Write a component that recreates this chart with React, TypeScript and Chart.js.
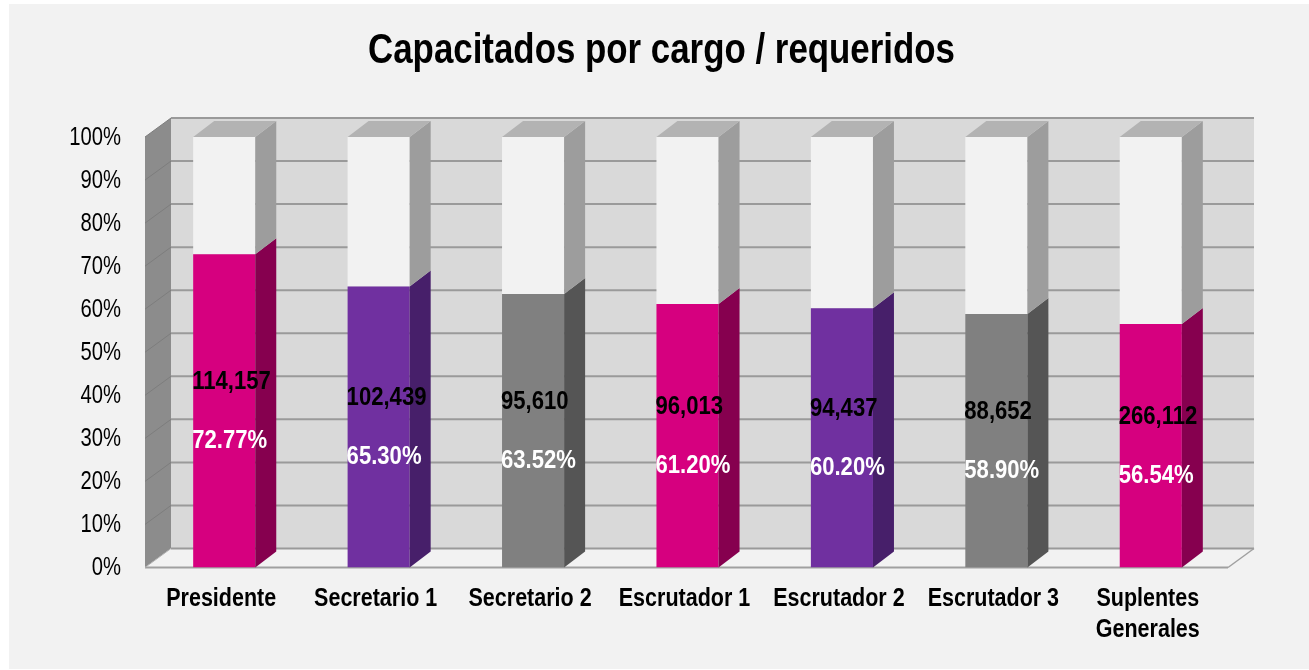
import React, { useEffect, useRef } from 'react';
import { Chart, registerables } from 'chart.js';

Chart.register(...registerables);

const TITLE = 'Capacitados por cargo / requeridos';
const categories: (string | string[])[] = [
  'Presidente',
  'Secretario 1',
  'Secretario 2',
  'Escrutador 1',
  'Escrutador 2',
  'Escrutador 3',
  ['Suplentes', 'Generales'],
];
const percentValues = [72.77, 65.3, 63.52, 61.2, 60.2, 58.9, 56.54];
const trainedCounts = [114157, 102439, 95610, 96013, 94437, 88652, 266112];
const remainderValues = percentValues.map((v) => Math.round((100 - v) * 100) / 100);
const yTickValues = [0, 10, 20, 30, 40, 50, 60, 70, 80, 90, 100];

const barColors = ['#d6007f', '#7030a0', '#808080', '#d6007f', '#7030a0', '#808080', '#d6007f'];
const sideColors = ['#86004f', '#471f6a', '#555555', '#86004f', '#471f6a', '#555555', '#86004f'];
const restColor = '#f2f2f2';
const restSide = '#9d9d9d';
const restTop = '#b3b3b3';

const FF = "'Liberation Sans', Arial, sans-serif";

const WALL_DX = 26;
const WALL_DY = -19;
const BAR_DX = 21;
const BAR_DY = -16;

function poly(ctx: CanvasRenderingContext2D, pts: number[][], fill: string) {
  ctx.beginPath();
  ctx.moveTo(pts[0][0], pts[0][1]);
  for (let i = 1; i < pts.length; i++) ctx.lineTo(pts[i][0], pts[i][1]);
  ctx.closePath();
  ctx.fillStyle = fill;
  ctx.fill();
}

function line(ctx: CanvasRenderingContext2D, x1: number, y1: number, x2: number, y2: number, color: string, w: number) {
  ctx.beginPath();
  ctx.moveTo(x1, y1);
  ctx.lineTo(x2, y2);
  ctx.strokeStyle = color;
  ctx.lineWidth = w;
  ctx.stroke();
}

// condensed text (emulates Arial Narrow by horizontal scaling)
function narrowText(
  ctx: CanvasRenderingContext2D,
  text: string,
  x: number,
  y: number,
  font: string,
  color: string,
  sx: number,
  align: CanvasTextAlign,
  baseline: CanvasTextBaseline
) {
  ctx.save();
  ctx.translate(x, y);
  ctx.scale(sx, 1);
  ctx.font = font;
  ctx.fillStyle = color;
  ctx.textAlign = align;
  ctx.textBaseline = baseline;
  ctx.fillText(text, 0, 0);
  ctx.restore();
}

const excel3d = {
  id: 'excel3d',
  beforeDraw(chart: any) {
    const { ctx, width, height } = chart;
    ctx.save();
    ctx.fillStyle = '#ffffff';
    ctx.fillRect(0, 0, width, height);
    ctx.fillStyle = '#f2f2f2';
    ctx.fillRect(9, 4, width - 9, height - 5);
    narrowText(ctx, TITLE, 661.5, 63, `bold 42px ${FF}`, '#000000', 0.83, 'center', 'alphabetic');
    ctx.restore();
  },
  beforeDatasetsDraw(chart: any) {
    const { ctx, chartArea } = chart;
    const ys = chart.scales.y;
    const xs = chart.scales.x;
    const fl = chartArea.left - 2;
    const fr = chartArea.right;
    const y0 = ys.getPixelForValue(0);
    const y100 = ys.getPixelForValue(100);
    ctx.save();
    // back wall
    ctx.fillStyle = '#d9d9d9';
    ctx.fillRect(fl + WALL_DX, y100 + WALL_DY, fr - fl, y0 - y100);
    // left wall
    poly(ctx, [[fl, y100], [fl + WALL_DX, y100 + WALL_DY], [fl + WALL_DX, y0 + WALL_DY], [fl, y0]], '#8c8c8c');
    // floor
    poly(ctx, [[fl, y0], [fl + WALL_DX, y0 + WALL_DY], [fr + WALL_DX, y0 + WALL_DY], [fr, y0]], '#f2f2f2');
    // gridlines
    for (const v of yTickValues) {
      const yv = ys.getPixelForValue(v);
      if (v > 0) line(ctx, fl, yv, fl + WALL_DX, yv + WALL_DY, '#7d7d7d', 1);
      line(ctx, fl + WALL_DX, yv + WALL_DY, fr + WALL_DX, yv + WALL_DY, '#9a9a9a', 2);
    }
    // floor edges
    line(ctx, fl, y0, fr, y0, '#a0a0a0', 2);
    line(ctx, fr, y0, fr + WALL_DX, y0 + WALL_DY, '#a0a0a0', 1.5);
    line(ctx, fl, y0, fl + WALL_DX, y0 + WALL_DY, '#b0b0b0', 1);

    // y tick labels
    for (const v of yTickValues) {
      narrowText(ctx, v + '%', chartArea.left - 26, ys.getPixelForValue(v) + 1, `25px ${FF}`, '#000000', 0.81, 'right', 'middle');
    }
    // x tick labels
    categories.forEach((c, i) => {
      const lines = Array.isArray(c) ? c : [c];
      const px = xs.getPixelForTick(i) - 3;
      lines.forEach((t, k) => {
        narrowText(ctx, t, px, chartArea.bottom + 32 + k * 31, `bold 25px ${FF}`, '#000000', 0.86, 'center', 'middle');
      });
    });
    ctx.restore();
  },
  afterDatasetsDraw(chart: any) {
    const { ctx } = chart;
    const m0 = chart.getDatasetMeta(0).data;
    const m1 = chart.getDatasetMeta(1).data;
    ctx.save();
    for (let j = 0; j < m0.length; j++) {
      const a = m0[j].getProps(['x', 'y', 'base', 'width'], true);
      const b = m1[j].getProps(['x', 'y', 'base', 'width'], true);
      {
        const r = a.x + a.width / 2;
        const top = Math.min(a.y, a.base);
        const bot = Math.max(a.y, a.base);
        poly(ctx, [[r, top], [r + BAR_DX, top + BAR_DY], [r + BAR_DX, bot + BAR_DY], [r, bot]], sideColors[j]);
      }
      {
        const l = b.x - b.width / 2;
        const r = b.x + b.width / 2;
        const top = Math.min(b.y, b.base);
        const bot = Math.max(b.y, b.base);
        poly(ctx, [[r, top], [r + BAR_DX, top + BAR_DY], [r + BAR_DX, bot + BAR_DY], [r, bot]], restSide);
        poly(ctx, [[l, top], [l + BAR_DX, top + BAR_DY], [r + BAR_DX, top + BAR_DY], [r, top]], restTop);
      }
      const left = a.x - a.width / 2 - 1;
      const mid = (a.y + a.base) / 2;
      narrowText(ctx, trainedCounts[j].toLocaleString('en-US'), left, mid - 29, `bold 26px ${FF}`, '#000000', 0.85, 'left', 'middle');
      narrowText(ctx, percentValues[j].toFixed(2) + '%', left, mid + 30, `bold 26px ${FF}`, '#ffffff', 0.85, 'left', 'middle');
    }
    ctx.restore();
  },
};

export default function App() {
  const ref = useRef<HTMLCanvasElement | null>(null);
  useEffect(() => {
    if (!ref.current) return;
    const chart = new Chart(ref.current, {
      type: 'bar',
      data: {
        labels: categories as any,
        datasets: [
          {
            label: 'Capacitados',
            data: percentValues,
            backgroundColor: barColors,
            borderWidth: 0,
            categoryPercentage: 1,
            barPercentage: 0.402,
          },
          {
            label: 'Faltantes',
            data: remainderValues,
            backgroundColor: restColor,
            borderWidth: 0,
            categoryPercentage: 1,
            barPercentage: 0.402,
          },
        ],
      },
      options: {
        animation: false,
        responsive: false,
        devicePixelRatio: 1,
        layout: { padding: { left: 27, right: 81, top: 137, bottom: 2.5 } },
        plugins: {
          legend: { display: false },
          tooltip: { enabled: false },
          title: { display: false },
        },
        scales: {
          x: {
            stacked: true,
            grid: { display: false, drawTicks: false },
            border: { display: false },
            ticks: { display: false, autoSkip: false, maxRotation: 0 },
            afterFit: (s: any) => {
              s.height = 100;
            },
          },
          y: {
            stacked: true,
            min: 0,
            max: 100,
            grid: { display: false, drawTicks: false },
            border: { display: false },
            ticks: { display: false, stepSize: 10 },
            afterFit: (s: any) => {
              s.width = 120;
            },
          },
        },
      } as any,
      plugins: [excel3d],
    });
    return () => chart.destroy();
  }, []);
  return (
    <div style={{ position: 'fixed', left: 0, top: 0, width: 1309, height: 670, background: '#ffffff' }}>
      <canvas ref={ref} width={1309} height={670} style={{ display: 'block' }} />
    </div>
  );
}
